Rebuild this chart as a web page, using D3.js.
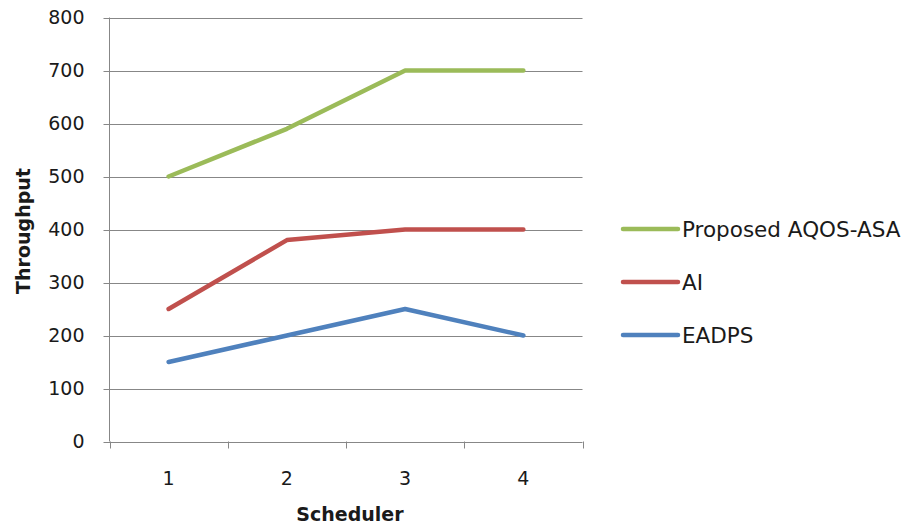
<!DOCTYPE html>
<html><head><meta charset="utf-8">
<script src="https://cdn.jsdelivr.net/npm/d3@7"></script>
<style>body{margin:0;background:#fff}svg{display:block}text{font-family:"DejaVu Sans",sans-serif}</style>
</head><body>
<svg id="c" width="907" height="528"></svg>
<script>
const categories = ["1","2","3","4"];
const seriesNames = ["Proposed AQOS-ASA","AI","EADPS"];
const proposed = [500,590,700,700];
const ai = [250,380,400,400];
const eadps = [150,200,250,200];
const yTicks = [0,100,200,300,400,500,600,700,800];
const colors = ["#9BBB59","#C0504D","#4F81BD"];
const seriesValues = [proposed, ai, eadps];

const svg = d3.select("#c");
const pLeft = 109.5, pRight = 582.5, pTop = 17.5, pBottom = 441.5;
const x = d3.scaleBand().domain(categories).range([pLeft, pRight]);
const y = d3.scaleLinear().domain([0,800]).range([pBottom, pTop]);

// gridlines
svg.append("g").selectAll("line").data(yTicks).join("line")
  .attr("x1", pLeft-6).attr("x2", pRight).attr("y1", d=>Math.round(y(d))+0.5).attr("y2", d=>Math.round(y(d))+0.5)
  .attr("stroke","#878787").attr("stroke-width",1);
// y axis line
svg.append("line").attr("x1",pLeft).attr("x2",pLeft).attr("y1",pTop).attr("y2",pBottom).attr("stroke","#878787");
// x axis ticks
const xt = categories.map(c=>x(c)).concat([pRight]);
svg.append("g").selectAll("line").data(xt).join("line")
  .attr("x1",d=>Math.round(d)+0.5).attr("x2",d=>Math.round(d)+0.5).attr("y1",pBottom).attr("y2",pBottom+7)
  .attr("stroke","#878787");
// y tick labels
svg.append("g").selectAll("text").data(yTicks).join("text")
  .attr("x", pLeft-25).attr("y", d=>y(d)).attr("dy","0.36em").attr("text-anchor","end")
  .attr("font-size",19).attr("fill","#1a1a1a").text(d=>d);
// x tick labels
svg.append("g").selectAll("text").data(categories).join("text")
  .attr("x", d=>x(d)+x.bandwidth()/2).attr("y", 485).attr("text-anchor","middle")
  .attr("font-size",19).attr("fill","#1a1a1a").text(d=>d);
// axis titles
svg.append("text").attr("x",350).attr("y",521).attr("text-anchor","middle").attr("font-size",19).attr("font-weight","bold").attr("fill","#1a1a1a").text("Scheduler");
svg.append("text").attr("transform","translate(30,231) rotate(-90)").attr("text-anchor","middle").attr("font-size",19).attr("font-weight","bold").attr("fill","#1a1a1a").text("Throughput");

// lines
const line = d3.line().x((d,i)=>x(categories[i])+x.bandwidth()/2).y(d=>y(d));
seriesValues.forEach((vals,k)=>{
  svg.append("path").attr("d",line(vals)).attr("fill","none").attr("stroke",colors[k]).attr("stroke-width",4.5).attr("stroke-linecap","round").attr("stroke-linejoin","round");
});

// legend
const lg = svg.append("g");
seriesNames.forEach((n,k)=>{
  const yy = 229 + k*53;
  lg.append("line").attr("x1",623).attr("x2",678).attr("y1",yy).attr("y2",yy).attr("stroke",colors[k]).attr("stroke-width",4.5).attr("stroke-linecap","round");
  lg.append("text").attr("x",682).attr("y",yy).attr("dy","0.36em").attr("font-size",21.5).attr("fill","#1a1a1a").text(n);
});
</script>
</body></html>
